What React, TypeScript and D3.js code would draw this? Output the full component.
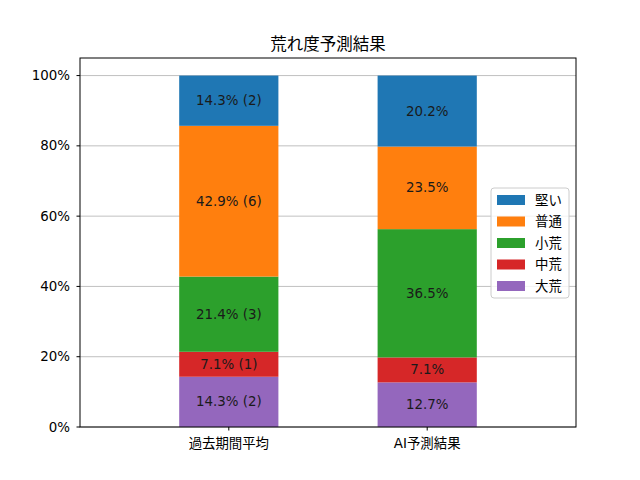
import React from 'react';
import * as d3 from 'd3';

const categories = ['過去期間平均', 'AI予測結果'];
const levels = ['大荒', '中荒', '小荒', '普通', '堅い'];
const colors = ['#9467bd', '#d62728', '#2ca02c', '#ff7f0e', '#1f77b4'];
// percentages per level (bottom to top) for each category
const pastValues = [14.3, 7.1, 21.4, 42.9, 14.3];
const pastCounts = [2, 1, 3, 6, 2];
const aiValues = [12.7, 7.1, 36.5, 23.5, 20.2];
const yTicks = [0, 20, 40, 60, 80, 100];

const FONT = '"DejaVu Sans", "Noto Sans CJK JP", sans-serif';
const FS = 13.4;

export default function App() {
  const width = 640;
  const height = 480;
  const left = 80;
  const right = 576;
  const top = 58;
  const bottom = 427;

  const x = d3.scaleLinear().domain([-0.75, 1.75]).range([left, right]);
  const y = d3.scaleLinear().domain([0, 105]).range([bottom, top]);
  const barW = x(0.5) - x(0);

  const series = [
    { values: pastValues, labels: pastValues.map((v, i) => `${v.toFixed(1)}% (${pastCounts[i]})`) },
    { values: aiValues, labels: aiValues.map(v => `${v.toFixed(1)}%`) },
  ];

  const legendX = 491;
  const legendY = 188;
  const rowH = 21.5;

  return (
    <svg width={width} height={height} style={{ display: 'block', margin: -8 }} fontFamily={FONT}>
      <rect width={width} height={height} fill="#fff" />
      {/* grid */}
      {yTicks.map(t => (
        <line key={`g${t}`} x1={left} x2={right} y1={y(t)} y2={y(t)} stroke="#b0b0b0" strokeWidth={0.8} />
      ))}
      {/* bars */}
      {series.map((s, ci) => {
        let acc = 0;
        return (
          <g key={ci}>
            {s.values.map((v, li) => {
              const y0 = acc;
              acc += v;
              const cx = x(ci);
              return (
                <g key={li}>
                  <rect x={cx - barW / 2} y={y(acc)} width={barW} height={y(y0) - y(acc)} fill={colors[li]} />
                  <text x={cx} y={y(y0 + v / 2)} textAnchor="middle" dominantBaseline="central" fontSize={FS} fill="#1a1a1a">
                    {s.labels[li]}
                  </text>
                </g>
              );
            })}
          </g>
        );
      })}
      {/* axes frame */}
      <rect x={left} y={top} width={right - left} height={bottom - top} fill="none" stroke="#000" strokeWidth={1} />
      {/* y ticks */}
      {yTicks.map(t => (
        <g key={`t${t}`}>
          <line x1={left - 3.5} x2={left} y1={y(t)} y2={y(t)} stroke="#000" />
          <text x={left - 10} y={y(t)} textAnchor="end" dominantBaseline="central" fontSize={FS}>{`${t}%`}</text>
        </g>
      ))}
      {/* x ticks */}
      {categories.map((c, i) => (
        <g key={c}>
          <line x1={x(i)} x2={x(i)} y1={bottom} y2={bottom + 3.5} stroke="#000" />
          <text x={x(i)} y={bottom + 16} textAnchor="middle" dominantBaseline="central" fontSize={FS}>{c}</text>
        </g>
      ))}
      {/* title */}
      <text x={(left + right) / 2} y={top - 8} textAnchor="middle" fontSize={16.5}>荒れ度予測結果</text>
      {/* legend */}
      <rect x={legendX} y={legendY} width={78} height={110} rx={3} fill="#fff" fillOpacity={0.8} stroke="#ccc" />
      {levels.slice().reverse().map((l, i) => {
        const idx = levels.length - 1 - i;
        const ry = legendY + 12 + i * rowH;
        return (
          <g key={l}>
            <rect x={legendX + 6} y={ry - 5} width={28} height={10} fill={colors[idx]} />
            <text x={legendX + 44} y={ry} dominantBaseline="central" fontSize={FS}>{l}</text>
          </g>
        );
      })}
    </svg>
  );
}
